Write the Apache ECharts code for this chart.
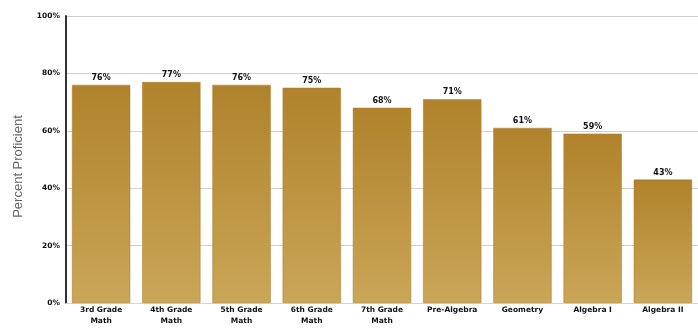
<!DOCTYPE html>
<html>
<head>
<meta charset="utf-8">
<script src="https://cdn.jsdelivr.net/npm/echarts@6/dist/echarts.min.js"></script>
<style>
  html, body { margin: 0; padding: 0; background: #fff; }
  #chart { width: 698px; height: 330px; }
</style>
</head>
<body>
<div id="chart"></div>
<script>
// Course names along the x axis
var courses = ['3rd Grade\nMath', '4th Grade\nMath', '5th Grade\nMath', '6th Grade\nMath', '7th Grade\nMath', 'Pre-Algebra', 'Geometry', 'Algebra I', 'Algebra II'];
// Percent of students proficient in each course
var proficient = [76, 77, 76, 75, 68, 71, 61, 59, 43];
// Y axis tick values
var yTicks = [0, 20, 40, 60, 80, 100];

var labelFont = 'DejaVu Sans, Verdana, sans-serif';

var chart = echarts.init(document.getElementById('chart'));
chart.setOption({
  animation: false,
  grid: { left: 66, right: 0, top: 16, bottom: 27 },
  xAxis: {
    type: 'category',
    data: courses,
    axisLine: { show: true, lineStyle: { color: '#d4d4d4', width: 1 } },
    axisTick: { show: false },
    axisLabel: {
      interval: 0,
      color: '#111',
      fontSize: 7.5,
      fontWeight: 'bold',
      fontFamily: labelFont,
      lineHeight: 11,
      margin: 2
    }
  },
  yAxis: {
    type: 'value',
    min: yTicks[0],
    max: yTicks[yTicks.length - 1],
    interval: yTicks[1] - yTicks[0],
    name: 'Percent Proficient',
    nameLocation: 'middle',
    nameGap: 41,
    nameTextStyle: { color: '#666', fontSize: 13, fontFamily: 'Liberation Sans, Arial, sans-serif', padding: [0, 14, 0, 0] },
    axisLine: { show: true, lineStyle: { color: '#333', width: 2 } },
    axisTick: { show: false },
    axisLabel: {
      formatter: '{value}%',
      color: '#111',
      fontSize: 7.5,
      fontWeight: 'bold',
      fontFamily: labelFont,
      margin: 6
    },
    splitLine: { lineStyle: { color: '#d0d0d0', width: 1 } }
  },
  series: [{
    type: 'bar',
    data: proficient,
    barCategoryGap: '17%',
    itemStyle: {
      color: new echarts.graphic.LinearGradient(0, 0, 0, 1, [
        { offset: 0, color: '#b0822b' },
        { offset: 1, color: '#caa657' }
      ]),
      borderColor: '#a97a25',
      borderWidth: 0.5
    },
    label: {
      show: true,
      position: 'top',
      distance: 3,
      formatter: '{c}%',
      color: '#111',
      fontSize: 8,
      fontWeight: 'bold',
      fontFamily: labelFont
    }
  }]
});
</script>
</body>
</html>
